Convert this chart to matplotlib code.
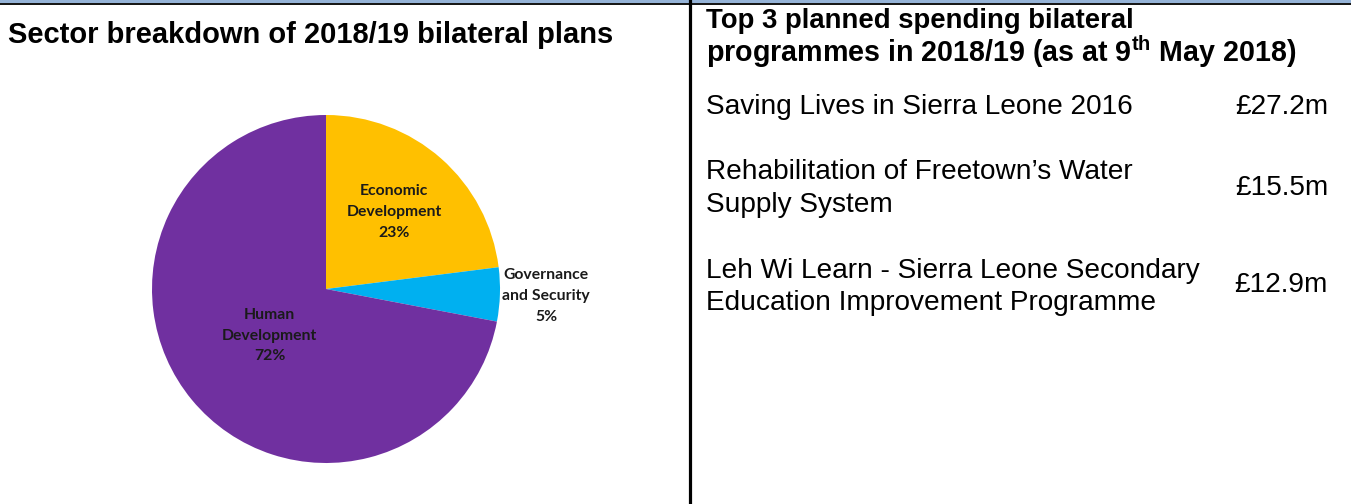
import numpy as np
import matplotlib.pyplot as plt
from matplotlib.lines import Line2D
from matplotlib.patches import Rectangle

# DATA #################################################################################################################
sectors = ["Economic\nDevelopment", "Governance\nand Security", "Human\nDevelopment"]
shares = [23, 5, 72]
sector_colors = ["#FFC000", "#00B0F0", "#7030A0"]
label_radius = [0.59, 1.265, 0.42]

programmes = ["Saving Lives in Sierra Leone 2016",
              "Rehabilitation of Freetown\u2019s Water\nSupply System",
              "Leh Wi Learn - Sierra Leone Secondary\nEducation Improvement Programme"]
amounts = ["\u00a327.2m", "\u00a315.5m", "\u00a312.9m"]

left_title = "Sector breakdown of 2018/19 bilateral plans"
right_title = ["Top 3 planned spending bilateral",
               r"programmes in 2018/19 (as at 9$^{\mathregular{th}}$ May 2018)"]

# FIGURE ###############################################################################################################
W, H = 1351, 504
fig = plt.figure(figsize=(W / 100, H / 100), dpi=100)
fig.patch.set_facecolor("white")
plt.rcParams["font.family"] = ["Liberation Sans", "DejaVu Sans"]


def fx(px):
    return px / W


def fy(py):
    return 1 - py / H


# frame lines
fig.add_artist(Rectangle((0, fy(2.5)), 1, 2.5 / H, transform=fig.transFigure, color="#95B3D7", lw=0))
fig.add_artist(Line2D([0, 1], [fy(3.8), fy(3.8)], transform=fig.transFigure, color="black", lw=1.3))
fig.add_artist(Line2D([fx(689.5), fx(689.5)], [0, 1], transform=fig.transFigure, color="black", lw=2.3))

# left: pie
cx, cy, r = 326, 289, 174
ax = fig.add_axes([fx(cx - r), fy(cy + r), 2 * r / W, 2 * r / H])
wedges, _ = ax.pie(shares, colors=sector_colors, startangle=90, counterclock=False, radius=1,
                   wedgeprops={"linewidth": 0})
ax.set_xlim(-1, 1)
ax.set_ylim(-1, 1)
ax.set_aspect("equal")
ax.axis("off")
for w, name, pct, rr in zip(wedges, sectors, shares, label_radius):
    ang = np.deg2rad((w.theta1 + w.theta2) / 2)
    ax.text(rr * np.cos(ang), rr * np.sin(ang), "%s\n%d%%" % (name, pct), ha="center", va="center",
            family=["Lato", "DejaVu Sans"], fontweight="bold", fontsize=11.3, linespacing=1.6, color="#1a1a1a")

fig.text(fx(8), fy(43), left_title, fontsize=21, fontweight="bold", va="baseline", ha="left")

# right: table
plt.rcParams["mathtext.fontset"] = "custom"
plt.rcParams["mathtext.rm"] = "Liberation Sans:bold"
fig.text(fx(706), fy(28), right_title[0], fontsize=19.8, fontweight="bold", va="baseline", ha="left")
fig.text(fx(706), fy(62), right_title[1], fontsize=20.6, fontweight="bold", va="baseline", ha="left")

row_base = [114, 179, 278]
amount_base = [114, 195, 292]
for prog, amt, yb, ya in zip(programmes, amounts, row_base, amount_base):
    for k, line in enumerate(prog.split("\n")):
        fig.text(fx(706), fy(yb + 32.5 * k), line, fontsize=20.2, va="baseline", ha="left")
    fig.text(fx(1328), fy(ya), amt, fontsize=20.2, va="baseline", ha="right")

fig.savefig("out.png", dpi=100, facecolor="white")
